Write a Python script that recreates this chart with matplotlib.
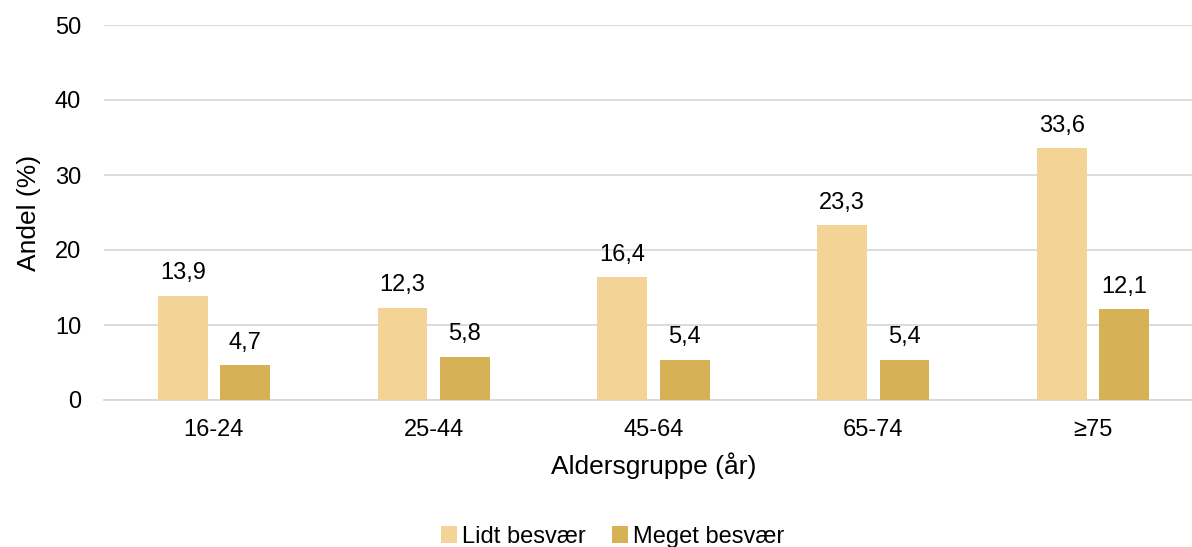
import matplotlib.pyplot as plt
import numpy as np

plt.rcParams['font.family'] = ['Liberation Sans', 'DejaVu Sans']

# Aldersgrupper og andel med besvær
age_groups = ['16-24', '25-44', '45-64', '65-74', '≥75']
lidt = [13.9, 12.3, 16.4, 23.3, 33.6]
meget = [4.7, 5.8, 5.4, 5.4, 12.1]
series_names = ['Lidt besvær', 'Meget besvær']

COLOR_LIDT = '#f3d496'
COLOR_MEGET = '#d6b155'
GRID = '#d9d9d9'

fig = plt.figure(figsize=(11.92, 5.47), dpi=100)
W, H = 1192, 547
ax = fig.add_axes([104 / W, (H - 400) / H, 1099 / W, 375 / H])

x = np.arange(len(age_groups))
width = 0.227
offset = 0.142

b1 = ax.bar(x - offset, lidt, width, color=COLOR_LIDT, label=series_names[0], zorder=3)
b2 = ax.bar(x + offset, meget, width, color=COLOR_MEGET, label=series_names[1], zorder=3)

for bars, vals in ((b1, lidt), (b2, meget)):
    for rect, v in zip(bars, vals):
        ax.text(rect.get_x() + rect.get_width() / 2, v + 1.5,
                f'{v:.1f}'.replace('.', ','), ha='center', va='bottom',
                fontsize=17, color='black')

ax.set_xlim(-0.5, len(age_groups) - 0.5)
ax.set_ylim(0, 50)
ax.set_yticks(range(0, 51, 10))
ax.set_xticks(x)
ax.set_xticklabels(age_groups)
ax.yaxis.grid(True, color=GRID, linewidth=1.3, zorder=0)
ax.set_axisbelow(True)
for side in ('top', 'right', 'left'):
    ax.spines[side].set_visible(False)
ax.spines['bottom'].set_color(GRID)
ax.spines['bottom'].set_linewidth(1.3)
ax.tick_params(axis='both', length=0, labelsize=17, colors='black')
ax.tick_params(axis='y', pad=16.5)
ax.tick_params(axis='x', pad=14)

ax.set_xlabel('Aldersgruppe (år)', fontsize=19, labelpad=8)
ax.set_ylabel('Andel (%)', fontsize=19, labelpad=10)

fig.legend(handles=[b1, b2], labels=series_names, loc='lower center',
           bbox_to_anchor=(0.514, -0.04), ncol=2, frameon=False,
           fontsize=17, handlelength=0.7, handleheight=0.7,
           handletextpad=0.2, columnspacing=1.1)

fig.savefig('out.png', dpi=100)
